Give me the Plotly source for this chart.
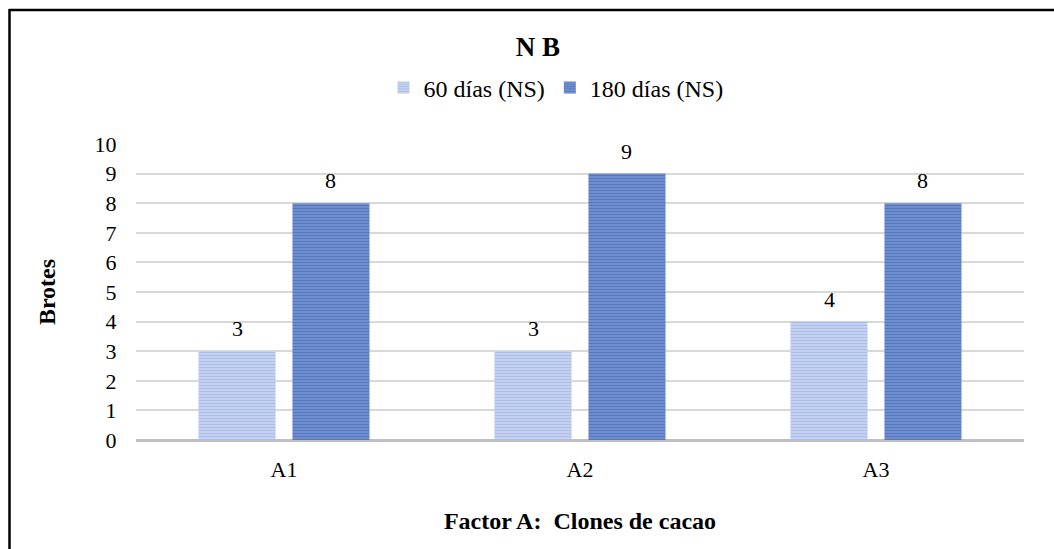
import plotly.graph_objects as go

categories = ["A1", "A2", "A3"]
dias_60 = [3, 3, 4]
dias_180 = [8, 9, 8]
series_names = ["60 días (NS)", "180 días (NS)"]
y_ticks = list(range(0, 11))

W, H = 1054, 549
ML, MR, MT, MB = 136, 30, 144, 109
plot_w = W - ML - MR
plot_h = H - MT - MB

FONT = "Liberation Serif, Times New Roman, serif"

fig = go.Figure()
fig.add_trace(go.Bar(
    name=series_names[0], x=categories, y=dias_60,
    marker=dict(color="#aabbe6", line=dict(width=0),
                pattern=dict(shape="-", fgcolor="#8aa3dc", bgcolor="#cdd8f2",
                             size=3, solidity=0.55)),
))
fig.add_trace(go.Bar(
    name=series_names[1], x=categories, y=dias_180,
    marker=dict(color="#3a62b4", line=dict(width=0),
                pattern=dict(shape="-", fgcolor="#2c58ab", bgcolor="#7f9ad6",
                             size=3, solidity=0.6)),
))

# value labels above each bar
slot_px = plot_w / len(categories) * (1 - 0.365) / 2
for vals, shift in ((dias_60, -slot_px / 2), (dias_180, slot_px / 2)):
    for c, v in zip(categories, vals):
        fig.add_annotation(x=c, y=v, text=str(v), showarrow=False,
                           xshift=shift, yshift=8, yanchor="bottom",
                           font=dict(family=FONT, size=22, color="#000000"))

# outer frame lines (top and left)
def px_x(p):
    return (p - ML) / plot_w

def px_y(p):
    return (H - MB - p) / plot_h

fig.add_shape(type="line", xref="paper", yref="paper",
              x0=px_x(9), x1=px_x(W + 5), y0=px_y(10), y1=px_y(10),
              line=dict(color="#000000", width=2.5))
fig.add_shape(type="line", xref="paper", yref="paper",
              x0=px_x(9.5), x1=px_x(9.5), y0=px_y(9), y1=px_y(H + 5),
              line=dict(color="#000000", width=2.5))

fig.update_layout(
    width=W, height=H,
    margin=dict(l=ML, r=MR, t=MT, b=MB),
    paper_bgcolor="#ffffff", plot_bgcolor="#ffffff",
    barmode="group", bargap=0.365, bargroupgap=0.18,
    font=dict(family=FONT, size=22, color="#000000"),
    title=dict(text="<b>N B</b>", x=538 / W, xanchor="center",
               y=1 - 47 / H, yanchor="middle",
               font=dict(family=FONT, size=27, color="#000000")),
    legend=dict(orientation="h", x=px_x(556), xanchor="center",
                y=px_y(88), yanchor="middle",
                font=dict(family=FONT, size=24, color="#000000"),
                itemwidth=30, tracegroupgap=0),
    xaxis=dict(showgrid=False, ticks="outside", ticklen=10,
               tickcolor="rgba(0,0,0,0)", showline=False,
               tickfont=dict(family=FONT, size=22),
               title=dict(text="<b>Factor A:  Clones de cacao</b>",
                          font=dict(family=FONT, size=24), standoff=30)),
    yaxis=dict(range=[0, 10], tickvals=y_ticks, showgrid=True,
               gridcolor="#d9d9d9", gridwidth=1.5,
               zeroline=True, zerolinecolor="#bfbfbf", zerolinewidth=3,
               showline=False, ticks="outside", ticklen=14, tickcolor="rgba(0,0,0,0)",
               tickfont=dict(family=FONT, size=22),
               title=dict(text="<b>Brotes</b>",
                          font=dict(family=FONT, size=24), standoff=32)),
)

fig.write_html("out.html")
